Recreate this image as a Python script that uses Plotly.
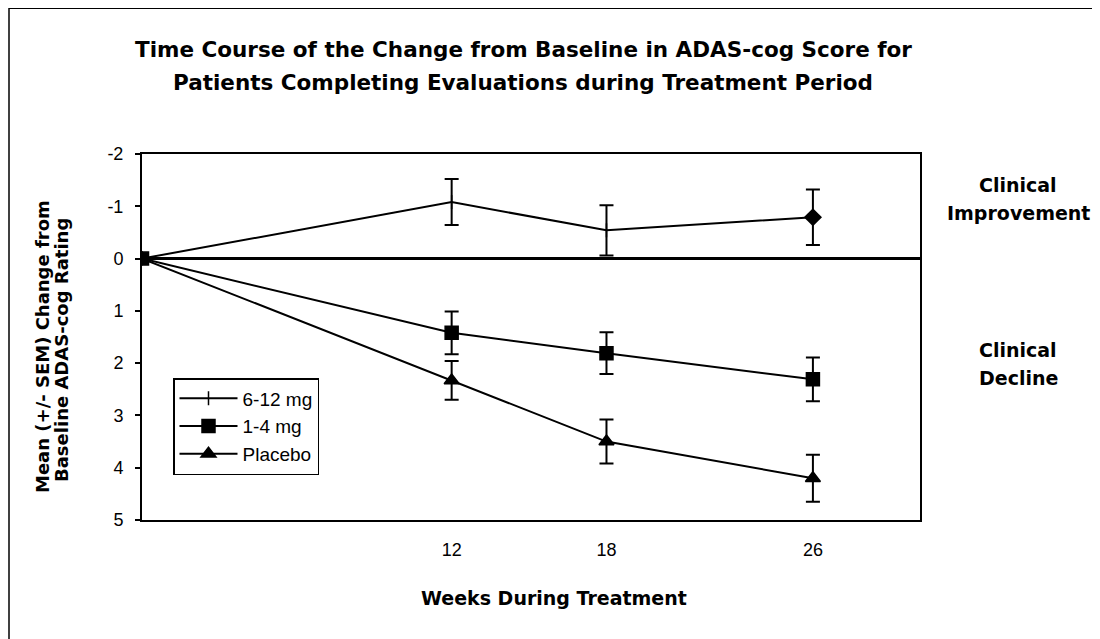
import plotly.graph_objects as go

weeks = [0, 12, 18, 26]
series_names = ["6-12 mg", "1-4 mg", "Placebo"]
high_dose = [0, -1.08, -0.54, -0.79]
high_dose_sem = [0, 0.44, 0.48, 0.53]
low_dose = [0, 1.42, 1.81, 2.31]
low_dose_sem = [0, 0.41, 0.40, 0.42]
placebo = [0, 2.33, 3.50, 4.20]
placebo_sem = [0, 0.37, 0.42, 0.45]
y_ticks = [-2, -1, 0, 1, 2, 3, 4, 5]
x_ticks = [12, 18, 26]

# screen-space layout (page body adds an 8px offset)
OFF = 8
L, R, T, B = 142, 920, 154, 520
W, H = 1100 - OFF, 639 - OFF

def px(x):
    return (x - L) / (R - L)

def py(y):
    return (B - y) / (B - T)

BOLD = "DejaVu Sans"
REG = "Liberation Sans, Arial, sans-serif"

fig = go.Figure()

def add(name, y, err, symbol, size, legend=True):
    fig.add_trace(go.Scatter(
        x=weeks, y=y, name=name, mode="lines+markers", showlegend=legend,
        line=dict(color="black", width=2),
        marker=dict(symbol=symbol, size=size, color="black", opacity=1,
                    line=dict(color="black", width=1.5)),
        error_y=dict(type="data", array=err, visible=True,
                     color="black", thickness=2, width=7),
    ))

add(series_names[0], high_dose, high_dose_sem, "line-ns", 10)
# diamond marker at the final visit of the 6-12 mg series
fig.add_trace(go.Scatter(
    x=weeks[-1:], y=high_dose[-1:], mode="markers", showlegend=False,
    marker=dict(symbol="diamond", size=14, color="black", line=dict(width=0)),
))
add(series_names[1], low_dose, low_dose_sem, "square", 13)
add(series_names[2], placebo, placebo_sem, "triangle-up", 13)

fig.update_layout(
    width=W, height=H,
    margin=dict(l=L - OFF, r=W - (R - OFF), t=T - OFF, b=H - (B - OFF), pad=0),
    paper_bgcolor="white", plot_bgcolor="white",
    showlegend=True,
    legend=dict(x=px(173), y=py(378), xanchor="left", yanchor="top",
                bordercolor="black", borderwidth=1.5, bgcolor="white",
                font=dict(family=REG, size=19, color="black"),
                tracegroupgap=0, itemwidth=58),
    font=dict(family=REG, color="black"),
)

fig.update_xaxes(
    range=[0, 30.15], tickvals=x_ticks, ticktext=[str(v) for v in x_ticks],
    showgrid=False, zeroline=False, showline=True, mirror=True,
    linecolor="black", linewidth=2, ticks="", ticklabelstandoff=12,
    tickfont=dict(family=REG, size=18, color="black"),
)
fig.update_yaxes(
    range=[5, -2], tickvals=y_ticks, ticktext=[str(v) for v in y_ticks],
    showgrid=False, zeroline=True, zerolinecolor="black", zerolinewidth=3,
    showline=True, mirror=True, linecolor="black", linewidth=2,
    ticks="outside", ticklen=5, tickwidth=1.5, tickcolor="black",
    ticklabelstandoff=8,
    tickfont=dict(family=REG, size=18, color="black"),
)

ann = []
def text(t, x, y, size, angle=0):
    ann.append(dict(text=t, x=px(x), y=py(y), xref="paper", yref="paper",
                    showarrow=False, textangle=angle, xanchor="center", yanchor="middle",
                    font=dict(family=BOLD, size=size, color="black")))

text("<b>Time Course of the Change from Baseline in ADAS-cog Score for</b>", 523, 50, 21.5)
text("<b>Patients Completing Evaluations during Treatment Period</b>", 523, 83, 21.5)
text("<b>Mean (+/- SEM) Change from</b>", 42, 347, 18, -90)
text("<b>Baseline ADAS-cog Rating</b>", 61, 350, 18, -90)
text("<b>Weeks During Treatment</b>", 554, 598, 19)
text("<b>Clinical</b>", 1018, 185, 19)
text("<b>Improvement</b>", 1018, 213, 19)
text("<b>Clinical</b>", 1018, 350, 19)
text("<b>Decline</b>", 1018, 378, 19)
fig.update_layout(annotations=ann)

fig.update_layout(shapes=[
    dict(type="line", xref="paper", yref="paper", x0=px(9), x1=px(1100), y0=py(8), y1=py(8),
         line=dict(color="black", width=2)),
    dict(type="line", xref="paper", yref="paper", x0=px(9), x1=px(9), y0=py(8), y1=py(639),
         line=dict(color="black", width=1.5)),
])

fig.write_html("out.html")
